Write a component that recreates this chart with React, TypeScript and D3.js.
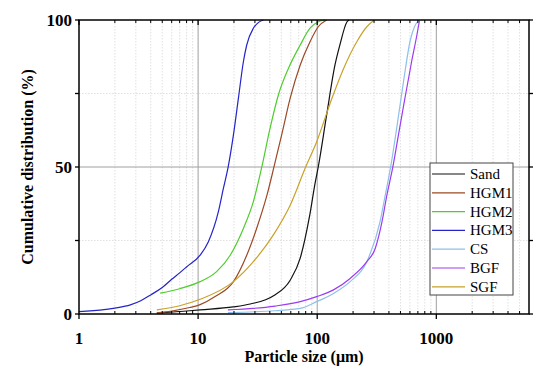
import React from "react";
import * as d3 from "d3";

const seriesNames = ["Sand", "HGM1", "HGM2", "HGM3", "CS", "BGF", "SGF"];
const seriesColors = ["#111111", "#9a4a26", "#4fcc2e", "#2424c8", "#8ec0ea", "#9c3cf0", "#c9a22a"];

const sandSize = [4.5, 8.5, 10.4, 19.7, 27.4, 43, 59.3, 72, 86, 96, 102, 120, 141, 155, 178, 185];
const sandVal = [0.3, 1.1, 1.4, 2.4, 3.4, 6.2, 11.5, 19, 33, 44.5, 50, 67.7, 84.7, 91.5, 99.4, 100];

const hgm1Size = [4.5, 6, 8.5, 10.4, 14, 19.8, 25.6, 31, 37.9, 43.4, 50.3, 59.3, 72, 87, 102, 120];
const hgm1Val = [0.4, 1.0, 2.2, 3.2, 6, 11, 20, 29.1, 40.5, 50.1, 60.9, 73.4, 84.7, 92.6, 97.7, 100];

const hgm2Size = [4.8, 7, 10.4, 14.3, 18.6, 24, 29.1, 34.3, 40.2, 47.2, 57.4, 72, 87, 102, 116];
const hgm2Val = [7.1, 8.6, 11, 14.4, 20, 29.1, 38.2, 50.1, 63.2, 74.5, 83.6, 91.5, 97.2, 99.4, 100];

const hgm3Size = [1, 2, 2.7, 3.3, 4, 5, 6, 7, 8, 10.4, 12.2, 14.8, 16.3, 17.9, 19.8, 21.8, 24, 25.6, 29.1, 32.2, 35.3];
const hgm3Val = [0.8, 2, 3.1, 4.5, 6.5, 9, 11.8, 14, 16, 20, 24.6, 34.8, 42.7, 50.1, 60.9, 73.4, 85.8, 91.5, 97.2, 99.2, 100];

const csSize = [17.8, 44.3, 72, 99, 137, 189, 261, 337, 373, 414, 465, 530, 605, 660, 710];
const csVal = [0.5, 1.1, 1.9, 4.2, 7, 11, 17.8, 31.4, 40.5, 50.1, 63.2, 79, 93.2, 98, 99.8];

const bgfSize = [17.8, 44.3, 72, 99, 137, 189, 261, 307, 350, 385, 432, 481, 545, 620, 687, 722];
const bgfVal = [1.4, 2.7, 4.2, 5.9, 8.2, 12.1, 17.8, 22.3, 31.4, 40.5, 50.1, 60.9, 73.4, 85.8, 94.9, 99.8];

const sgfSize = [4.5, 7, 10.4, 19.8, 29.1, 43, 59.3, 80, 99, 133, 167, 215, 261, 298];
const sgfVal = [1.4, 2.8, 5, 11, 17.8, 27, 37, 50, 58.6, 73.4, 83.6, 92.6, 97.7, 99.8];

const seriesSizes = [sandSize, hgm1Size, hgm2Size, hgm3Size, csSize, bgfSize, sgfSize];
const seriesVals = [sandVal, hgm1Val, hgm2Val, hgm3Val, csVal, bgfVal, sgfVal];

const xTickValues = [1, 10, 100, 1000];
const yTickValues = [0, 50, 100];
const yMinorValues = [25, 75];

const W = 550;
const H = 376;
const L = 79, R = 529, T = 20, B = 314;

export default function App() {
  const x = d3.scaleLog().domain([1, 6000]).range([L, R]);
  const y = d3.scaleLinear().domain([0, 100]).range([B, T]);
  const minor: number[] = [];
  for (let p = 0; p < 4; p++) {
    for (let m = 2; m <= 9; m++) {
      const v = m * Math.pow(10, p);
      if (v < 6000) minor.push(v);
    }
  }
  const line = d3
    .line<[number, number]>()
    .x((d) => x(d[0]))
    .y((d) => y(d[1]))
    .curve(d3.curveMonotoneX);
  const font = "'Liberation Serif', 'Times New Roman', serif";
  const legX = 430, legY = 163, legW = 83, legH = 132;
  return (
    <svg width={W} height={H} style={{ position: "absolute", left: 0, top: 0 }}>
      <rect x={0} y={0} width={W} height={H} fill="#fff" />
      {minor.map((v) => (
        <line key={"mg" + v} x1={x(v)} x2={x(v)} y1={T} y2={B} stroke="#d8d8d8" strokeWidth={0.8} strokeDasharray="1.5,1.5" />
      ))}
      {yMinorValues.map((v) => (
        <line key={"ymg" + v} x1={L} x2={R} y1={y(v)} y2={y(v)} stroke="#d8d8d8" strokeWidth={0.8} strokeDasharray="1.5,1.5" />
      ))}
      {xTickValues.slice(1).map((v) => (
        <line key={"Mg" + v} x1={x(v)} x2={x(v)} y1={T} y2={B} stroke="#a0a0a0" strokeWidth={1} />
      ))}
      <line x1={L} x2={R} y1={y(50)} y2={y(50)} stroke="#a0a0a0" strokeWidth={1} />
      {seriesNames.map((n, i) => (
        <path
          key={n}
          d={line(seriesSizes[i].map((s, j) => [s, seriesVals[i][j]] as [number, number])) || ""}
          fill="none"
          stroke={seriesColors[i]}
          strokeWidth={1.2}
        />
      ))}
      <rect x={L} y={T} width={R - L} height={B - T} fill="none" stroke="#000" strokeWidth={1.5} />
      {minor.map((v) => (
        <g key={"mt" + v}>
          <line x1={x(v)} x2={x(v)} y1={B} y2={B - 3} stroke="#000" strokeWidth={1} />
          <line x1={x(v)} x2={x(v)} y1={T} y2={T + 3} stroke="#000" strokeWidth={1} />
        </g>
      ))}
      {xTickValues.map((v) => (
        <g key={"Mt" + v}>
          <line x1={x(v)} x2={x(v)} y1={B} y2={B + 5} stroke="#000" strokeWidth={1.3} />
          <line x1={x(v)} x2={x(v)} y1={T} y2={T + 5} stroke="#000" strokeWidth={1.3} />
          <text x={x(v)} y={B + 30} textAnchor="middle" fontFamily={font} fontWeight="bold" fontSize={17}>
            {v}
          </text>
        </g>
      ))}
      {[...yTickValues, ...yMinorValues].map((v) => (
        <g key={"yt" + v}>
          <line x1={L} x2={L - 4} y1={y(v)} y2={y(v)} stroke="#000" strokeWidth={1.3} />
          <line x1={R} x2={R + 4} y1={y(v)} y2={y(v)} stroke="#000" strokeWidth={1.3} />
        </g>
      ))}
      {yTickValues.map((v) => (
        <text key={"yl" + v} x={L - 7} y={y(v) + 6} textAnchor="end" fontFamily={font} fontWeight="bold" fontSize={17}>
          {v}
        </text>
      ))}
      <text x={(L + R) / 2} y={362} textAnchor="middle" fontFamily={font} fontWeight="bold" fontSize={16}>
        Particle size (μm)
      </text>
      <text
        transform={`translate(33,${(T + B) / 2}) rotate(-90)`}
        textAnchor="middle"
        fontFamily={font}
        fontWeight="bold"
        fontSize={16}
      >
        Cumulative distribution (%)
      </text>
      <rect x={legX} y={legY} width={legW} height={legH} fill="#fff" stroke="#444" strokeWidth={1} />
      {seriesNames.map((n, i) => {
        const yy = legY + 11 + i * 18.8;
        return (
          <g key={"lg" + n}>
            <line x1={legX + 2} x2={legX + 35} y1={yy} y2={yy} stroke={seriesColors[i]} strokeWidth={1.2} />
            <text x={legX + 40} y={yy + 5} fontFamily={font} fontSize={15}>
              {n}
            </text>
          </g>
        );
      })}
    </svg>
  );
}
